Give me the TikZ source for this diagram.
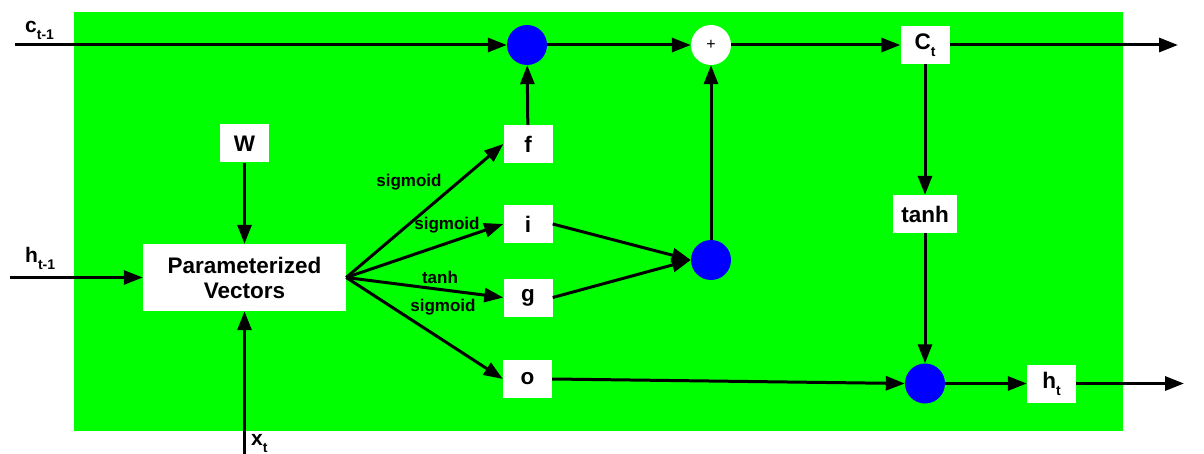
\documentclass[tikz,border=0pt]{standalone}
\usepackage{fontspec}
\setmainfont{Liberation Sans}
\usetikzlibrary{arrows.meta}
\definecolor{lgreen}{HTML}{00FF00}
\definecolor{dblue}{HTML}{0000FF}
\newcommand\lsub[1]{\raisebox{-7pt}{\fontsize{14}{14}\selectfont #1}}
\begin{document}
\begin{tikzpicture}[x=1pt,y=-1pt,
 box/.style={fill=white, inner sep=0pt, minimum width=49pt, minimum height=38pt, font=\fontsize{22.5}{25}\selectfont\bfseries},
 dot/.style={circle, fill=dblue, minimum size=40pt, inner sep=0pt},
 lab/.style={font=\fontsize{17}{19}\selectfont\bfseries, inner sep=0pt},
 ext/.style={anchor=base west, inner sep=0pt, font=\fontsize{21}{21}\selectfont\bfseries},
 arr/.style={line width=3pt, -{Triangle[length=19pt,width=14pt]}}]
\path[use as bounding box] (0,0) rectangle (1204,454);
\fill[lgreen] (74,12) rectangle (1123,431);

\node[box, minimum width=203pt, minimum height=67pt, align=center] (pv) at (244.5,277.5) {Parameterized\\Vectors};
\node[box] (W) at (244.5,143.5) {W};
\node[box] (f) at (528,144) {f};
\node[box] (i) at (528,224) {i};
\node[box] (g) at (528,297.5) {g};
\node[box] (o) at (527.5,379) {o};
\node[dot] (m1) at (527,45) {};
\node[circle, fill=white, minimum size=40pt, inner sep=0pt, font=\fontsize{16}{16}\selectfont] (plus) at (711,45) {+};
\node[dot] (m2) at (711,260) {};
\node[box] (C) at (925,45) {C\lsub{t}};
\node[box, minimum width=64pt] (tanh) at (925,214) {tanh};
\node[dot] (m3) at (925,383.5) {};
\node[box] (h) at (1051.5,383.5) {h\lsub{t}};

\coordinate (cin) at (15,45);
\coordinate (hin) at (10,277.5);
\coordinate (xin) at (244.5,454);
\coordinate (cout) at (1178,45);
\coordinate (hout) at (1184,383.5);

\node[ext] (clab) at (25,33) {c\lsub{t-1}};
\node[ext] (hlab) at (25,262) {h\lsub{t-1}};
\node[ext] (xlab) at (251,445) {x\lsub{t}};

\node[lab] (l1) at (409,182) {sigmoid};
\node[lab] (l2) at (447,225) {sigmoid};
\node[lab] (l3) at (440,277) {tanh};
\node[lab] (l4) at (443,307) {sigmoid};

\draw[arr] (cin) -- (m1);
\draw[arr] (m1) -- (plus);
\draw[arr] (plus) -- (C);
\draw[arr] (C) -- (cout);
\draw[arr] (f) -- (m1);
\draw[arr] (m2) -- (plus);
\draw[arr] (hin) -- (pv);
\draw[arr] (xin) -- (pv);
\draw[arr] (W) -- (pv);
\draw[arr] (pv.east) -- (f.west);
\draw[arr] (pv.east) -- (i.west);
\draw[arr] (pv.east) -- (g.west);
\draw[arr] (pv.east) -- (o.west);
\draw[arr] (i.east) -- (m2.west);
\draw[arr] (g.east) -- (m2.west);
\draw[arr] (o.east) -- (m3.west);
\draw[arr] (C) -- (tanh);
\draw[arr] (tanh) -- (m3);
\draw[arr] (m3) -- (h);
\draw[arr] (h) -- (hout);
\end{tikzpicture}
\end{document}
